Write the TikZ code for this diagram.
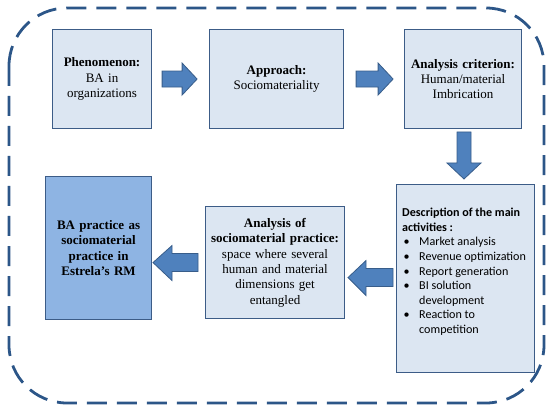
\documentclass[tikz,border=0pt]{standalone}
\usepackage{fontspec}
\setmainfont{Liberation Serif}
\newfontfamily\calib{Carlito}
\usetikzlibrary{calc}
\definecolor{dashblue}{RGB}{44,86,136}
\definecolor{boxline}{RGB}{60,92,135}
\definecolor{boxfill}{RGB}{220,230,242}
\definecolor{darkfill}{RGB}{142,180,227}
\definecolor{arrfill}{RGB}{79,129,189}
\definecolor{arrline}{RGB}{56,93,138}
\tikzset{
  box/.style={draw=boxline, line width=1.1pt, fill=boxfill, anchor=north west,
    inner sep=2pt, align=center, font=\fontsize{13}{15.4}\selectfont},
  darkbox/.style={box, fill=darkfill},
  blockarr/.style={draw=arrline, line width=0.8pt, fill=arrfill, line join=miter},
}
\begin{document}
\begin{tikzpicture}[x=1pt,y=-1pt]
\useasboundingbox (0,0) rectangle (550,412);
% outer dashed frame
\draw[dashblue, line width=2.8pt, dash pattern=on 20pt off 10pt, rounded corners=58pt]
  (9,8) rectangle (544,403);
% boxes
\node[box, minimum width=99pt, minimum height=99pt, text width=95pt] (n1) at (52,29)
  {\textbf{Phenomenon:}\\BA in\\organizations};
\node[box, minimum width=134pt, minimum height=99pt, text width=130pt] (n2) at (209,29)
  {\textbf{Approach:}\\Sociomateriality};
\node[box, minimum width=117pt, minimum height=99pt, text width=113pt] (n3) at (404,29)
  {\textbf{Analysis criterion:}\\Human/material\\Imbrication};
\node[box, minimum width=138pt, minimum height=188pt] (n4) at (396,184) {};
\node[anchor=north west, inner sep=0pt, align=left, font=\calib\fontsize{12.1}{14.6}\selectfont] (n4t) at (402,208)
  {\textbf{Description of the main}\\
   \textbf{activities :}\\
   \hspace*{1.5pt}\makebox[15.5pt][l]{•}Market analysis\\
   \hspace*{1.5pt}\makebox[15.5pt][l]{•}Revenue optimization\\
   \hspace*{1.5pt}\makebox[15.5pt][l]{•}Report generation\\
   \hspace*{1.5pt}\makebox[15.5pt][l]{•}BI solution\\
   \hspace*{17pt}development\\
   \hspace*{1.5pt}\makebox[15.5pt][l]{•}Reaction to\\
   \hspace*{17pt}competition};
\node[box, minimum width=139pt, minimum height=112pt, text width=135pt] (n5) at (205,206)
  {\textbf{Analysis of}\\\textbf{sociomaterial practice:}\\space where several\\human and material\\dimensions get\\entangled};
\node[darkbox, minimum width=106pt, minimum height=143pt, text width=102pt] (n6) at (45,176)
  {\textbf{BA practice as}\\\textbf{sociomaterial}\\\textbf{practice in}\\\textbf{Estrela's RM}};
% block arrows (right)
\draw[blockarr] ($(n1.east)+(10,-8)$) -- ++(20,0) -- ++(0,-8) -- ($(n1.east)+(45,0)$)
  -- ($(n1.east)+(30,16)$) -- ++(0,-8) -- ($(n1.east)+(10,8)$) -- cycle;
\draw[blockarr] ($(n2.east)+(12,-8)$) -- ++(22,0) -- ++(0,-8) -- ($(n2.east)+(49,0)$)
  -- ($(n2.east)+(34,16)$) -- ++(0,-8) -- ($(n2.east)+(12,8)$) -- cycle;
% block arrow (down)
\coordinate (d0) at (464,132);
\draw[blockarr] ($(d0)+(-7,0)$) -- ++(0,31) -- ++(-10,0) -- ($(d0)+(0,47)$)
  -- ($(d0)+(17,31)$) -- ++(-10,0) -- ($(d0)+(7,0)$) -- cycle;
% block arrows (left)
\draw[blockarr] ($(n4.west)+(-3,-10)$) -- ++(-27,0) -- ++(0,-8) -- ($(n4.west)+(-48,-1)$)
  -- ($(n4.west)+(-30,17)$) -- ++(0,-9) -- ($(n4.west)+(-3,8)$) -- cycle;
\draw[blockarr] ($(n5.west)+(-7,-9)$) -- ++(-26,0) -- ++(0,-8) -- ($(n5.west)+(-52,0)$)
  -- ($(n5.west)+(-33,18)$) -- ++(0,-9) -- ($(n5.west)+(-7,9)$) -- cycle;
\end{tikzpicture}
\end{document}
